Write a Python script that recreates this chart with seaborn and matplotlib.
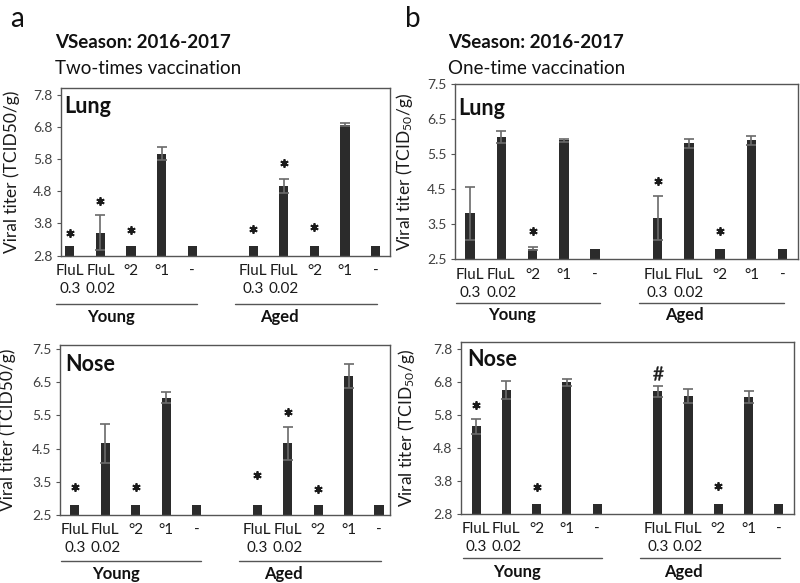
import numpy as np
import pandas as pd
import matplotlib.pyplot as plt
import matplotlib.transforms as mtransforms
import seaborn as sns

# x categories (same for both age groups)
categories = ["FluL\n0.3", "FluL\n0.02", "°2", "°1", "-"]
groups = ["Young", "Aged"]

# a: two-times vaccination, Young then Aged
a_lung_mean = [3.10, 3.51, 3.10, 5.97, 3.10, 3.10, 4.96, 3.10, 6.87, 3.10]
a_lung_err = [0, 0.54, 0, 0.21, 0, 0, 0.22, 0, 0.05, 0]
a_lung_mark = ["*", "*", "*", "", "", "*", "*", "*", "", ""]
a_lung_mark_y = [3.49, 4.50, 3.59, 0, 0, 3.62, 5.68, 3.70, 0, 0]

a_nose_mean = [2.80, 4.66, 2.80, 6.03, 2.80, 2.80, 4.66, 2.80, 6.69, 2.80]
a_nose_err = [0, 0.58, 0, 0.17, 0, 0, 0.49, 0, 0.35, 0]
a_nose_mark = ["*", "", "*", "", "", "*", "*", "*", "", ""]
a_nose_mark_y = [3.35, 0, 3.35, 0, 0, 3.70, 5.61, 3.28, 0, 0]

# b: one-time vaccination
b_lung_mean = [3.82, 5.99, 2.80, 5.90, 2.80, 3.67, 5.81, 2.80, 5.90, 2.80]
b_lung_err = [0.76, 0.17, 0.04, 0.05, 0, 0.63, 0.14, 0, 0.13, 0]
b_lung_mark = ["", "", "*", "", "", "*", "", "*", "", ""]
b_lung_mark_y = [0, 0, 3.31, 0, 0, 4.75, 0, 3.31, 0, 0]

b_nose_mean = [5.45, 6.56, 3.09, 6.78, 3.09, 6.51, 6.37, 3.09, 6.33, 3.09]
b_nose_err = [0.22, 0.27, 0, 0.10, 0, 0.17, 0.21, 0, 0.18, 0]
b_nose_mark = ["*", "", "*", "", "", "#", "", "*", "", ""]
b_nose_mark_y = [6.09, 0, 3.63, 0, 0, 7.06, 0, 3.65, 0, 0]

BAR = "#2b2b2b"
GREY = "#555555"

sns.set_theme(style="white")
plt.rcParams["font.family"] = ["Lato", "DejaVu Sans"]
plt.rcParams["mathtext.default"] = "regular"

fig = plt.figure(figsize=(8, 5.83), dpi=100)

markers = {"*": dict(marker=(6, 2, 0), ms=6, mew=1.3), "#": dict(marker=r"$\#$", ms=10, mew=0.3)}


def draw_panel(rect, mean, err, mark, mark_y, ylim, ticks, xlim, organ, organ_xy,
               ylabel, ylabel_x, line_y, text_y):
    ax = fig.add_axes(rect)
    pos = [g * 6 + i for g in range(len(groups)) for i in range(len(categories))]
    df = pd.DataFrame({"pos": pos, "titer": mean})
    sns.barplot(data=df, x="pos", y="titer", native_scale=True, width=0.3,
                color=BAR, saturation=1, errorbar=None, linewidth=0, ax=ax)

    idx = [i for i, e in enumerate(err) if e > 0]
    ax.errorbar([pos[i] for i in idx], [mean[i] for i in idx], yerr=[err[i] for i in idx],
                fmt="none", ecolor="#6a6a6a", elinewidth=1.2, capsize=3.5, capthick=1.2, zorder=3)

    for sym, style in markers.items():
        sel = [i for i, m in enumerate(mark) if m == sym]
        if sel:
            ax.plot([pos[i] for i in sel], [mark_y[i] for i in sel], ls="none",
                    color="#1a1a1a", mec="#1a1a1a", **style)

    ax.set_xlim(*xlim)
    ax.set_ylim(*ylim)
    ax.set_yticks(ticks)
    ax.set_yticklabels([f"{t:.1f}" for t in ticks])
    ax.set_xticks(pos)
    ax.set_xticklabels(categories * len(groups), fontsize=11, color="#1a1a1a", linespacing=1.35)
    ax.tick_params(axis="x", length=0, pad=6)
    ax.tick_params(axis="y", left=True, length=3, width=0.8, color=GREY,
                   labelsize=10, labelcolor="#404040", pad=3)
    ax.set_xlabel("")
    ax.set_ylabel(ylabel, fontsize=12.5, color="#1a1a1a")
    ax.yaxis.set_label_coords(ylabel_x, 0.5)
    for sp in ax.spines.values():
        sp.set_visible(True)
        sp.set_color(GREY)
        sp.set_linewidth(1)

    ax.text(organ_xy[0], organ_xy[1], organ, transform=ax.transAxes, fontsize=15.5,
            fontweight="bold", color="#111111", va="baseline", ha="left")

    trans = mtransforms.blended_transform_factory(ax.transData, ax.transAxes)
    spans = [(-0.45, 4.15, 1.35), (5.4, 10.05, 6.85)]
    for (x0, x1, xc), grp in zip(spans, groups):
        ax.plot([x0, x1], [line_y, line_y], transform=trans, clip_on=False, color=GREY, lw=1)
        ax.text(xc, text_y, grp, transform=trans, ha="center", va="center",
                fontsize=12, fontweight="bold", color="#111111")
    return ax


ylab_a = "Viral titer (TCID50/g)"
ylab_b = "Viral titer (TCID$_{50}$/g)"

draw_panel([0.07625, 0.5617, 0.41125, 0.2868], a_lung_mean, a_lung_err, a_lung_mark, a_lung_mark_y,
           (2.8, 8.0), [2.8, 3.8, 4.8, 5.8, 6.8, 7.8], (-0.29, 10.47), "Lung", (0.01, 0.85),
           ylab_a, -0.125, -0.292, -0.368)
draw_panel([0.075, 0.1166, 0.4125, 0.2916], a_nose_mean, a_nose_err, a_nose_mark, a_nose_mark_y,
           (2.5, 7.62), [2.5, 3.5, 4.5, 5.5, 6.5, 7.5], (-0.49, 10.36), "Nose", (0.015, 0.849),
           ylab_a, -0.133, -0.27, -0.347)
draw_panel([0.56875, 0.5552, 0.4284, 0.3002], b_lung_mean, b_lung_err, b_lung_mark, b_lung_mark_y,
           (2.5, 7.5), [2.5, 3.5, 4.5, 5.5, 6.5, 7.5], (-0.48, 10.48), "Lung", (0.009, 0.825),
           ylab_b, -0.117, -0.25, -0.318)
draw_panel([0.57625, 0.1184, 0.41625, 0.295], b_nose_mean, b_nose_err, b_nose_mark, b_nose_mark_y,
           (2.8, 8.0), [2.8, 3.8, 4.8, 5.8, 6.8, 7.8], (-0.5, 10.5), "Nose", (0.018, 0.86),
           ylab_b, -0.132, -0.254, -0.335)

# panel letters and headings
fig.text(0.0125, 0.9537, "a", fontsize=20, va="baseline", color="#111111")
fig.text(0.506, 0.9537, "b", fontsize=20, va="baseline", color="#111111")
for x, sub in [(0.069, "Two-times vaccination"), (0.56, "One-time vaccination")]:
    fig.text(x, 0.918, "VSeason: 2016-2017", fontsize=13.5, fontweight="bold", va="baseline", color="#111111")
    fig.text(x, 0.8726, sub, fontsize=13.5, va="baseline", color="#111111")

fig.savefig("out.png", dpi=100)
